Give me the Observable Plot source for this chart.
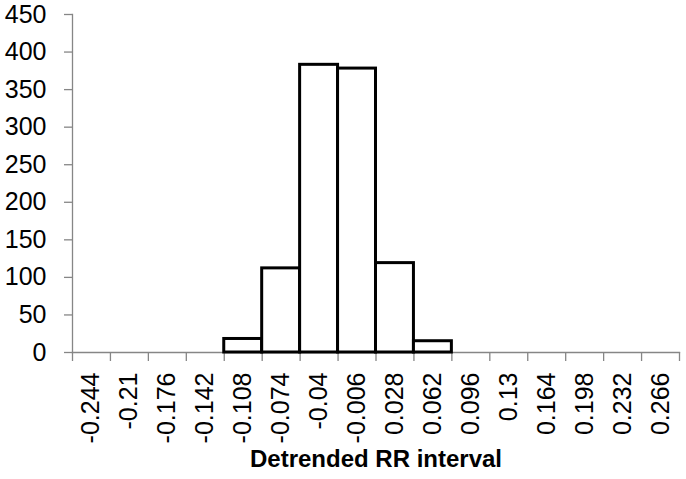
<!DOCTYPE html>
<html>
<head>
<meta charset="utf-8">
<script src="https://cdn.jsdelivr.net/npm/d3@7"></script>
<script src="https://cdn.jsdelivr.net/npm/@observablehq/plot@0.6"></script>
<style>
  html, body { margin: 0; padding: 0; background: #fff; }
</style>
</head>
<body>
<div id="chart"></div>
<script>
const bins = ["-0.244","-0.21","-0.176","-0.142","-0.108","-0.074","-0.04","-0.006","0.028","0.062","0.096","0.13","0.164","0.198","0.232","0.266"];
const counts = [0,0,0,0,18,112,383,378,119,15,0,0,0,0,0,0];
const yTicks = [0,50,100,150,200,250,300,350,400,450];
const xTitle = "Detrended RR interval";

const data = bins.map((b, i) => ({bin: b, count: counts[i]}));
const axisGray = "#868686";
const W = 686, H = 479, ML = 72, MR = 7;
const half = (W - ML - MR) / bins.length / 2;

const chart = Plot.plot({
  width: W,
  height: H,
  marginLeft: ML,
  marginRight: MR,
  marginTop: 14,
  marginBottom: 127,
  style: {fontFamily: "'Liberation Sans', Arial, sans-serif", fontSize: "25px", color: "black", background: "white"},
  x: {type: "band", domain: bins, padding: 0, round: false, axis: null},
  y: {domain: [0, 450], axis: null},
  marks: [
    Plot.frame({anchor: "left", stroke: axisGray, strokeWidth: 1.3}),
    Plot.frame({anchor: "bottom", stroke: axisGray, strokeWidth: 1.3}),
    Plot.axisY(yTicks, {tickSize: 8, tickPadding: 18, stroke: axisGray, strokeWidth: 1.3, fill: "black", label: null}),
    Plot.axisX(bins, {tickSize: 9, tickFormat: () => "", dx: -half, stroke: axisGray, strokeWidth: 1.3, label: null}),
    Plot.axisX([bins[bins.length - 1]], {tickSize: 9, tickFormat: () => "", dx: half, stroke: axisGray, strokeWidth: 1.3, label: null}),
    Plot.axisX(bins, {tickSize: 0, tickPadding: 20, tickRotate: -90, fill: "black", label: null}),
    Plot.barY(data.filter(d => d.count > 0), {x: "bin", y: "count", fill: "white", stroke: "black", strokeWidth: 3}),
    Plot.text([xTitle], {frameAnchor: "bottom", dy: 114, fontWeight: "bold", fontSize: 24, fill: "black"})
  ]
});
document.getElementById("chart").appendChild(chart);
</script>
</body>
</html>
